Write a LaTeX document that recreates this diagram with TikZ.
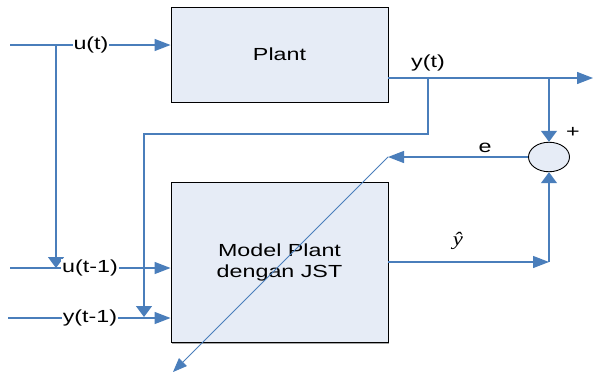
\documentclass[tikz,border=0pt]{standalone}
\usepackage{fontspec}
\setmainfont{Liberation Sans}[FakeStretch=1.33]
\newfontfamily\hatfont{Liberation Serif}[FakeStretch=1.2]
\usetikzlibrary{arrows.meta,shapes.geometric}
\definecolor{wire}{HTML}{4A7EBB}
\definecolor{boxfill}{HTML}{E6ECF6}
\tikzset{
  blockbox/.style={draw=black, line width=0.9pt, fill=boxfill, minimum width=217pt, minimum height=#1, inner sep=0pt, align=center, font=\fontsize{17.5}{21}\selectfont},
  sumnode/.style={draw=black, line width=0.9pt, fill=boxfill, ellipse, minimum width=41pt, minimum height=29.5pt, inner sep=0pt},
  wireline/.style={draw=wire, line width=1.3pt},
  harrow/.style={wireline, -{Triangle[length=16pt,width=12pt]}},
  varrow/.style={wireline, -{Triangle[length=11pt,width=16pt]}},
  thinarrow/.style={draw=wire, line width=0.8pt, -{Triangle[length=14pt,width=11pt]}},
  sig/.style={inner sep=1pt, font=\fontsize{17.5}{21}\selectfont},
  sigbg/.style={sig, fill=white}
}
\begin{document}
\begin{tikzpicture}[x=1pt,y=-1pt]
\useasboundingbox (0,0) rectangle (594,375);

% blocks
\fill[gray!70] (172,342) rectangle (389,343.5);
\node[blockbox=95pt] (plant) at (279.5,54.5) {Plant};
\node[blockbox=160pt] (model) at (279.5,262) {Model Plant\\dengan JST};
\node[sumnode] (sum) at (549,157) {};
\node[sig] (plus) at (573,132) {+};

% junctions and free ends
\coordinate (uin) at (10,45);
\coordinate (ub) at (56,45);
\coordinate (u1in) at (10,268);
\coordinate (ub1) at (56,268);
\coordinate (y1in) at (8,318);
\coordinate (yo) at (388,78);
\coordinate (yb) at (428,78);
\coordinate (ybl) at (428,134);
\coordinate (ybc) at (144,134);
\coordinate (ybe) at (144,317);
\coordinate (ys) at (549,78);
\coordinate (yend) at (593,78);
\coordinate (ehead) at (388,157);
\coordinate (etail) at (173,372);
\coordinate (yh) at (388,262);
\coordinate (yhc) at (549,262);

% inputs u(t), u(t-1), y(t-1)
\draw[harrow] (uin) -- (plant.west |- uin);
\draw[varrow] (ub) -- (ub1);
\draw[harrow] (u1in) -- (model.west |- u1in);
\draw[harrow] (y1in) -- (model.west |- y1in);
\node[sigbg] (lu) at (91,45) {u(t)};
\node[sigbg] (lu1) at (90,268) {u(t-1)};
\node[sigbg] (ly1) at (90,318) {y(t-1)};

% plant output and its delayed feedback
\draw[harrow] (yo) -- (yend);
\draw[varrow] (yb) -- (ybl) -- (ybc) -- (ybe);
\node[sig] (ly) at (428,63) {y(t)};
\draw[varrow] (ys) -- (sum.north);

% error path
\draw[harrow] (sum.west) -- (ehead);
\node[sig] (le) at (485,148) {e};
\draw[thinarrow] (ehead) -- (etail);

% model output
\draw[harrow] (yh) -- (yhc);
\draw[varrow] (yhc) -- (sum.south);
\node[inner sep=0pt, font=\hatfont\itshape\fontsize{19}{21}\selectfont] (lyh) at (458,241) {ŷ};
\end{tikzpicture}
\end{document}
